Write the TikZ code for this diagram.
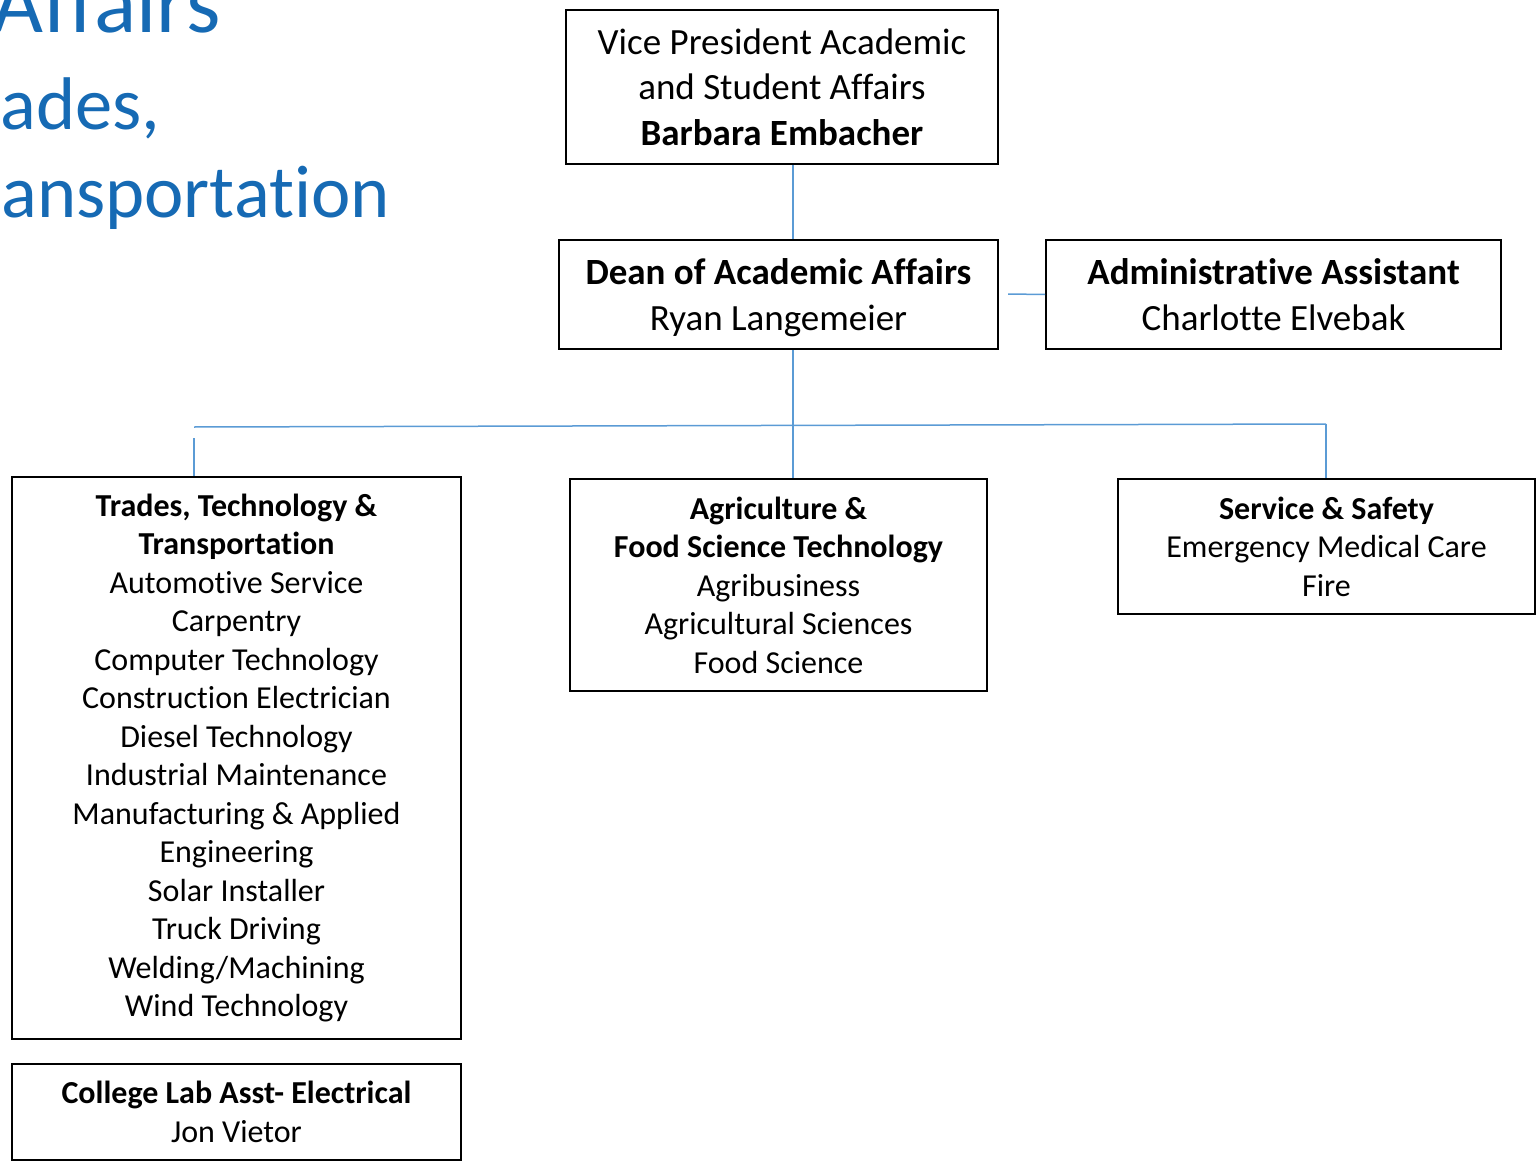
\documentclass[tikz,border=0pt]{standalone}
\usepackage{fontspec}
\setmainfont{Carlito}[Ligatures={NoCommon}]
\definecolor{titleblue}{RGB}{22,106,180}
\definecolor{linkblue}{RGB}{91,155,213}
\tikzset{
  orgbox/.style={draw=black, line width=1pt, inner sep=0pt, align=center, text=black},
  bigtext/.style={font=\fontsize{18.5pt}{22.8pt}\selectfont},
  smalltext/.style={font=\fontsize{16pt}{19.25pt}\selectfont},
  link/.style={draw=linkblue, line width=0.75pt},
  titletext/.style={text=titleblue, inner sep=0pt}
}
\begin{document}
\begin{tikzpicture}[x=0.5pt,y=-0.5pt]
\useasboundingbox (0,0) rectangle (1537,1161);
\clip (0,0) rectangle (1537,1161);

% clipped title fragments
\node[titletext, anchor=base east, font=\fontsize{44pt}{52pt}\selectfont] (t1) at (221,33) {Affairs};
\node[titletext, anchor=base west, font=\fontsize{37.3pt}{44pt}\selectfont] (t2) at (0,130) {ades,};
\node[titletext, anchor=base west, font=\fontsize{37.3pt}{44pt}\selectfont] (t3) at (1,217) {ansportation};

% boxes
\node[orgbox, bigtext, minimum width=216pt, minimum height=77pt] (vp) at (782,87)
  {Vice President Academic\\and Student Affairs\\\textbf{Barbara Embacher}};
\node[orgbox, bigtext, text depth=0pt, minimum width=219.5pt, minimum height=54.5pt] (dean) at (778.5,294.5)
  {\textbf{Dean of Academic Affairs}\\Ryan Langemeier};
\node[orgbox, bigtext, minimum width=227.5pt, minimum height=54.5pt] (admin) at (1273.5,294.5)
  {\textbf{Administrative Assistant}\\Charlotte Elvebak};
\node[orgbox, smalltext, minimum width=224.5pt, minimum height=281pt] (trades) at (236.5,758)
  {\textbf{Trades, Technology \&}\\\textbf{Transportation}\\Automotive Service\\Carpentry\\Computer Technology\\Construction Electrician\\Diesel Technology\\Industrial Maintenance\\Manufacturing \& Applied\\Engineering\\Solar Installer\\Truck Driving\\Welding/Machining\\Wind Technology};
\node[orgbox, smalltext, minimum width=208.5pt, minimum height=106pt] (agri) at (778.5,585)
  {\textbf{Agriculture \&}\\\textbf{Food Science Technology}\\Agribusiness\\Agricultural Sciences\\Food Science};
\node[orgbox, smalltext, minimum width=208.5pt, minimum height=67.5pt] (service) at (1326.5,546.5)
  {\textbf{Service \& Safety}\\Emergency Medical Care\\Fire};
\node[orgbox, smalltext, minimum width=224.5pt, minimum height=48pt] (lab) at (236.5,1112)
  {\textbf{College Lab Asst- Electrical}\\Jon Vietor};

% connector helper points
\coordinate (spine) at (793,0);
\coordinate (barL) at (194,427);
\coordinate (barR) at (1326,424);
\coordinate (leftdrop) at (194,438);
\coordinate (adminstub) at (1008,294);

% connectors
\draw[link] (vp.south -| spine) -- (dean.north -| spine);
\draw[link] (adminstub) -- (admin.west);
\draw[link] (dean.south -| spine) -- (agri.north -| spine);
\draw[link] (barL) -- (barR);
\draw[link] (leftdrop) -- (trades.north -| leftdrop);
\draw[link] (barR) -- (service.north -| barR);
\end{tikzpicture}
\end{document}
